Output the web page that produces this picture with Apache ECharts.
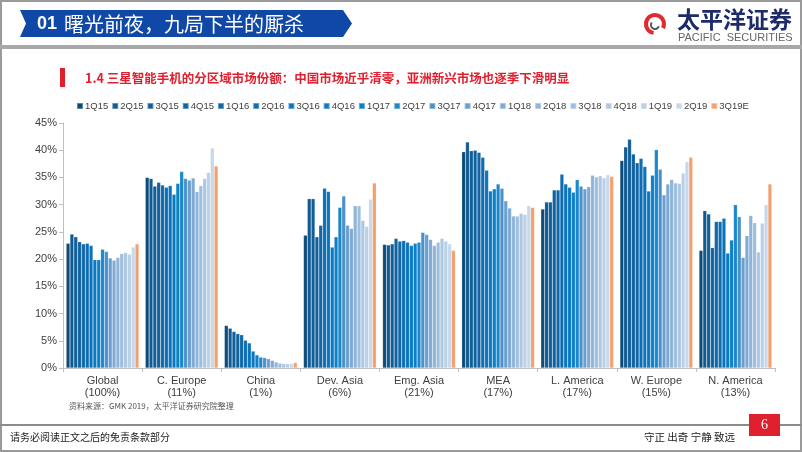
<!DOCTYPE html>
<html><head><meta charset="utf-8">
<script src="https://cdn.jsdelivr.net/npm/echarts@6/dist/echarts.min.js"></script>
<style>html,body{margin:0;padding:0;background:#fff}#c{width:802px;height:452px}</style>
</head><body><div id="c"></div>
<script>
// ---- DATA ----
const regions = ['Global\n(100%)','C. Europe\n(11%)','China\n(1%)','Dev. Asia\n(6%)','Emg. Asia\n(21%)','MEA\n(17%)','L. America\n(17%)','W. Europe\n(15%)','N. America\n(13%)'];
const quarters = ['1Q15','2Q15','3Q15','4Q15','1Q16','2Q16','3Q16','4Q16','1Q17','2Q17','3Q17','4Q17','1Q18','2Q18','3Q18','4Q18','1Q19','2Q19','3Q19E'];
// values per region, one per quarter (%)
const global   = [22.9,24.6,24.1,23.2,22.8,22.9,22.5,19.9,19.9,21.8,21.4,20.2,19.8,20.3,21.0,21.2,20.9,22.2,22.8];
const cEurope  = [35.0,34.8,33.4,34.1,33.6,33.2,33.5,31.9,33.9,36.1,34.8,34.5,34.9,32.4,33.5,34.8,35.9,40.4,37.1];
const china    = [7.8,7.3,6.7,6.3,6.1,5.1,4.6,3.1,2.4,2.0,1.9,1.7,1.4,1.1,0.9,0.8,0.8,0.8,1.0];
const devAsia  = [24.4,31.1,31.1,24.1,26.2,33.0,32.4,22.2,24.1,29.5,31.6,26.2,25.6,29.8,29.8,27.1,26.0,31.0,34.0];
const emgAsia  = [22.7,22.6,22.8,23.8,23.3,23.4,23.1,22.5,22.9,23.1,24.9,24.5,23.6,22.5,23.1,23.8,23.3,22.8,21.6];
const mea      = [39.7,41.5,39.9,40.0,39.6,38.7,36.3,32.5,32.9,33.8,33.0,30.7,29.4,27.9,27.9,28.4,28.2,29.8,29.5];
const lAmerica = [29.2,30.5,30.5,32.7,32.7,35.6,33.8,33.2,32.3,34.6,33.4,32.9,33.3,35.4,35.1,35.3,34.9,35.5,35.2];
const wEurope  = [38.1,40.6,42.0,39.3,37.7,38.5,37.0,32.5,35.4,40.1,36.5,31.8,33.8,34.6,34.0,33.9,35.8,37.9,38.7];
const nAmerica = [21.6,28.9,28.3,22.1,26.9,26.9,27.5,21.1,23.5,30.0,27.8,20.3,24.3,28.0,26.7,21.3,26.6,30.0,33.8];
const yTicks = [0,5,10,15,20,25,30,35,40,45];

const byRegion = [global,cEurope,china,devAsia,emgAsia,mea,lAmerica,wEurope,nAmerica];

// ---- STYLE ----
const palette = ['#0b4b7a','#0f5a90','#0f5e98','#10629f','#1066a6','#0e6cb1','#0b73bb','#0979c2','#0b7fc8','#1a87cc','#4a91c9','#6a9ecf','#7fa9d4','#8fb4d9','#9ebedd','#adc7e2','#b9d0e6','#c6d8ec','#f4a06c'];

const series = quarters.map((q,i)=>({
  name:q, type:'bar', barGap:'0%', barCategoryGap:'8%',
  itemStyle:{color:palette[i], borderColor:'rgba(255,255,255,0.35)', borderWidth:0.5},
  data: byRegion.map(r=>r[i])
}));

const chart = echarts.init(document.getElementById('c'), null, {renderer:'canvas'});
const CJK = '"Noto Sans CJK SC", sans-serif';
chart.setOption({
  animation:false,
  backgroundColor:'#ffffff',
  legend:{
    data:quarters, left:71, top:96, itemWidth:6, itemHeight:6, itemGap:3,
    icon:'rect', textStyle:{fontSize:9.5, color:'#404040', fontFamily:'Liberation Sans, Arial', padding:[0,0,0,-3]}
  },
  grid:{left:63, right:27, top:123, bottom:84, containLabel:false},
  xAxis:{
    type:'category', data:regions,
    axisLine:{lineStyle:{color:'#bfbfbf'}},
    axisTick:{show:true, alignWithLabel:false, length:4, lineStyle:{color:'#bfbfbf'}},
    axisLabel:{fontSize:11, color:'#404040', lineHeight:12, margin:7, fontFamily:'Liberation Sans, Arial'}
  },
  yAxis:{
    type:'value', min:yTicks[0], max:yTicks[yTicks.length-1], interval:5,
    axisLine:{show:true, lineStyle:{color:'#bfbfbf'}},
    axisTick:{show:true, length:4, lineStyle:{color:'#bfbfbf'}},
    splitLine:{show:false},
    axisLabel:{formatter:'{value}%', fontSize:11, color:'#404040', margin:6, fontFamily:'Liberation Sans, Arial'}
  },
  series:series,
  graphic:[
    {type:'rect', shape:{x:1,y:1,width:800,height:450}, style:{fill:'none', stroke:'#9a9a9a', lineWidth:2}, silent:true},
    {type:'rect', shape:{x:0,y:45,width:802,height:4}, style:{fill:'#a8a8a8'}},
    {type:'polygon', shape:{points:[[20,10],[343,10],[352,23.5],[343,37],[20,37],[26,23.5]]}, style:{fill:'#0f48a6'}},
    {type:'text', x:37, y:24, style:{text:'01', fill:'#fff', font:'bold 18px "Liberation Sans", Arial', verticalAlign:'middle'}},
    {type:'text', x:64, y:24, style:{text:'曙光前夜，九局下半的厮杀', fill:'#fff', font:'20px '+CJK, verticalAlign:'middle'}},
    // logo
    {type:'sector', shape:{cx:655, cy:24, r:11, r0:7, startAngle:Math.PI*0.55, endAngle:Math.PI*2.15}, style:{fill:'#e02a2f'}},
    {type:'sector', shape:{cx:655, cy:25, r:5, r0:3, startAngle:Math.PI*0.1, endAngle:Math.PI*1.2}, style:{fill:'#555'}},
    {type:'text', x:677, y:19, style:{text:'太平洋证券', fill:'#1d2b6b', font:'bold 23px '+CJK, verticalAlign:'middle'}},
    {type:'text', x:678, y:38, style:{text:'PACIFIC  SECURITIES', fill:'#666', font:'11px "Liberation Sans", Arial', verticalAlign:'middle'}},
    // subtitle
    {type:'rect', shape:{x:60,y:68,width:5,height:19}, style:{fill:'#e0202e'}},
    {type:'text', x:85, y:78, style:{text:'1.4 三星智能手机的分区域市场份额：中国市场近乎清零，亚洲新兴市场也逐季下滑明显', fill:'#e0202e', font:'bold 12.5px '+CJK, verticalAlign:'middle'}},
    // source
    {type:'text', x:69, y:406, style:{text:'资料来源：GMK 2019，太平洋证券研究院整理', fill:'#555', font:'8px '+CJK, verticalAlign:'middle'}},
    // footer
    {type:'rect', shape:{x:0,y:424,width:802,height:2}, style:{fill:'#8c8c8c'}},
    {type:'text', x:10, y:437, style:{text:'请务必阅读正文之后的免责条款部分', fill:'#222', font:'10px '+CJK, verticalAlign:'middle'}},
    {type:'text', x:644, y:437, style:{text:'守正 出奇 宁静 致远', fill:'#222', font:'10.5px '+CJK, verticalAlign:'middle'}},
    {type:'rect', shape:{x:749,y:414,width:31,height:22}, style:{fill:'#e0202e'}},
    {type:'text', x:764.5, y:425, style:{text:'6', fill:'#fff', font:'14px "Liberation Serif", serif', align:'center', verticalAlign:'middle'}}
  ]
});
</script></body></html>
